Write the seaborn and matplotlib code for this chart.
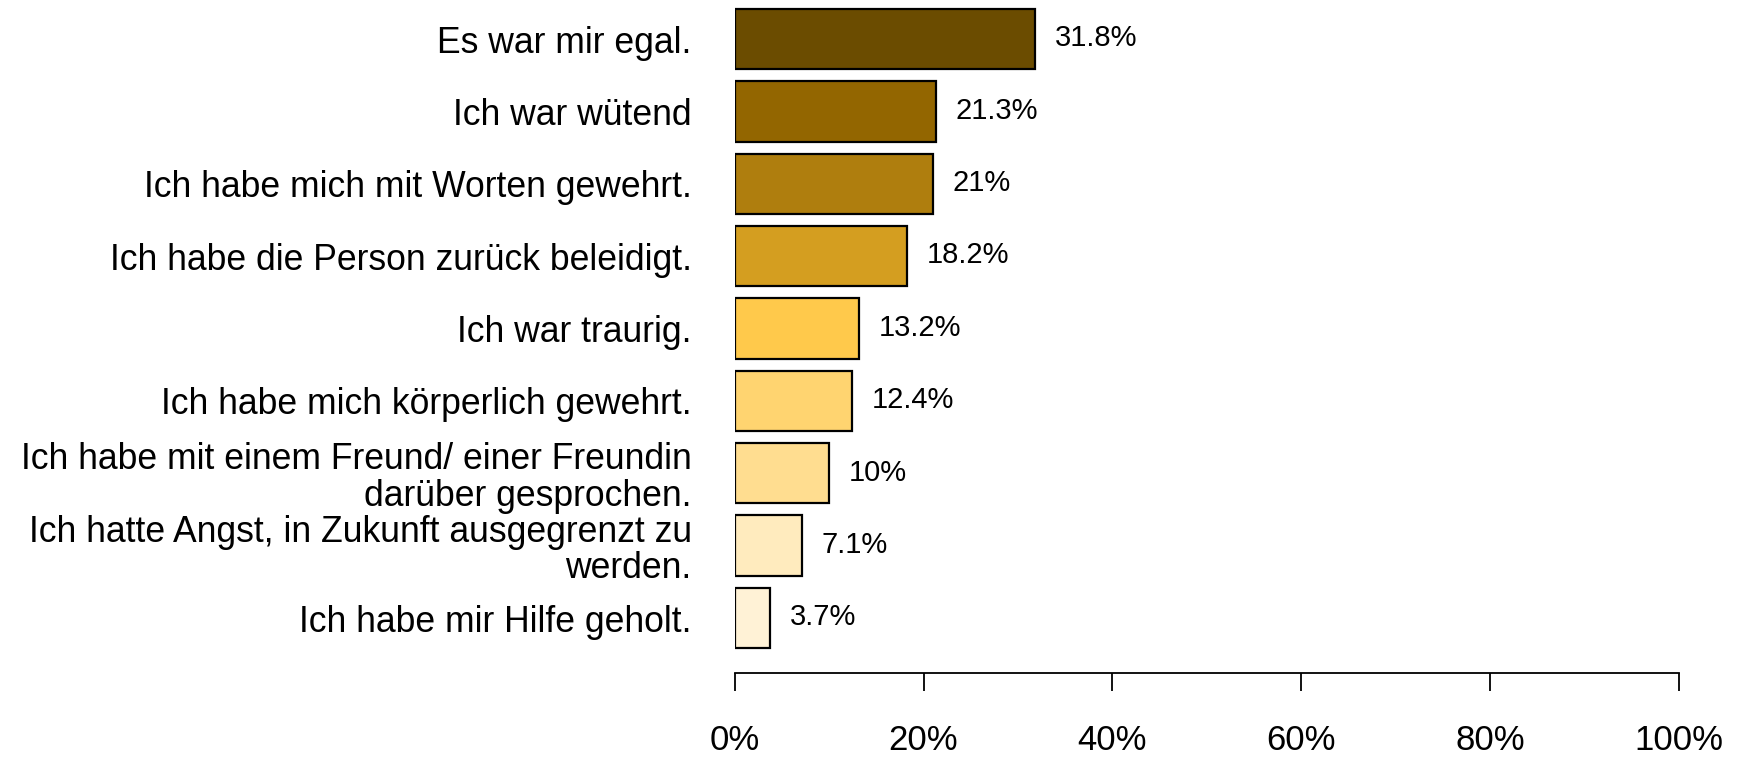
import matplotlib
matplotlib.use("Agg")
import matplotlib.pyplot as plt
import seaborn as sns
import pandas as pd

categories = [
    "Es war mir egal.",
    "Ich war wütend",
    "Ich habe mich mit Worten gewehrt.",
    "Ich habe die Person zurück beleidigt.",
    "Ich war traurig.",
    "Ich habe mich körperlich gewehrt.",
    "Ich habe mit einem Freund/ einer Freundin\ndarüber gesprochen.",
    "Ich hatte Angst, in Zukunft ausgegrenzt zu\nwerden.",
    "Ich habe mir Hilfe geholt.",
]
values = [31.8, 21.3, 21.0, 18.2, 13.2, 12.4, 10.0, 7.1, 3.7]
value_labels = ["31.8%", "21.3%", "21%", "18.2%", "13.2%", "12.4%", "10%", "7.1%", "3.7%"]
bar_colors = ["#6B4C00", "#936600", "#AF7E0E", "#D49E20", "#FFC94B",
              "#FFD470", "#FFDD90", "#FFEBBE", "#FFF2D6"]
x_ticks = [0, 20, 40, 60, 80, 100]
x_tick_labels = ["0%", "20%", "40%", "60%", "80%", "100%"]

sns.set_theme(style="white")
plt.rcParams["font.family"] = ["Liberation Sans", "DejaVu Sans"]

df = pd.DataFrame({"cat": categories, "val": values})

W, H = 1748, 757
fig = plt.figure(figsize=(W / 100, H / 100), dpi=100)
x0, x1 = 734.7, 1678.9
ax = fig.add_axes([x0 / W, 1 - 673 / H, (x1 - x0) / W, 673 / H])

sns.barplot(data=df, y="cat", x="val", hue="cat", palette=bar_colors,
            orient="h", width=0.833, edgecolor="black", linewidth=1.6,
            legend=False, ax=ax, saturation=1)

ax.set_xlim(0, 100)
ax.set_ylim(8.76, -0.54)
ax.set_xlabel("")
ax.set_ylabel("")

for i, (v, lab) in enumerate(zip(values, value_labels)):
    ax.text(v + 2.1, i - 0.01, lab, ha="left", va="center", fontsize=21, color="black")

ax.set_yticks(range(len(categories)))
ax.set_yticklabels(categories, fontsize=25.6, linespacing=1.06, color="black")
ax.tick_params(axis="y", length=0, pad=31)

ax.set_xticks(x_ticks)
ax.set_xticklabels(x_tick_labels, fontsize=25, color="black")
ax.tick_params(axis="x", length=13, width=1.3, color="black", pad=24, direction="out", bottom=True)

for s in ["top", "right", "left"]:
    ax.spines[s].set_visible(False)
ax.spines["bottom"].set_color("black")
ax.spines["bottom"].set_linewidth(1.3)

fig.savefig("out.png", dpi=100, facecolor="white")
